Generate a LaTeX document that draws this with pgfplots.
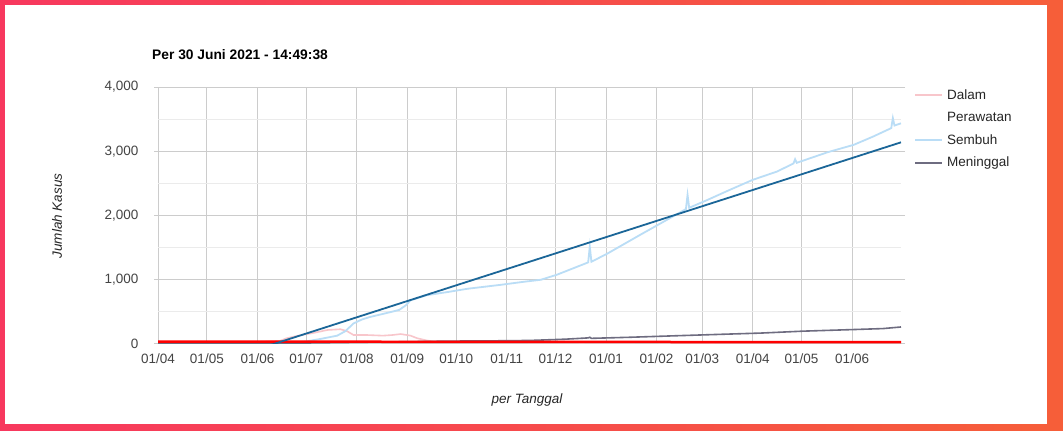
\documentclass[border=0pt]{standalone}
\usepackage{pgfplots}
\pgfplotsset{compat=1.18}
\usepackage{fontspec}
\setmainfont{Liberation Sans}
\definecolor{frameL}{HTML}{F7385E}
\definecolor{frameR}{HTML}{F65E39}
\definecolor{pinkc}{HTML}{F8C6CB}
\definecolor{lblue}{HTML}{BADDF6}
\definecolor{dblue}{HTML}{1B6698}
\definecolor{greyc}{HTML}{6E6C80}
\definecolor{tickc}{HTML}{444444}
\definecolor{majg}{HTML}{CCCCCC}
\definecolor{ming}{HTML}{EBEBEB}
\begin{document}
\begin{tikzpicture}[x=1pt,y=1pt]
\useasboundingbox (0,0) rectangle (1063,431);
\shade[left color=frameL, right color=frameR] (0,0) rectangle (1063,431);
\fill[white] (5,7) rectangle (1047,426);
\node[anchor=west, font=\fontsize{13.8}{16}\selectfont\bfseries, inner sep=0pt] at (152,376) {Per 30 Juni 2021 - 14:49:38};
\node[rotate=90, font=\fontsize{13.5}{15}\selectfont\itshape, text=black!85] at (57,215) {Jumlah Kasus};
\node[font=\fontsize{13.5}{15}\selectfont\itshape, text=black!85] at (527,31) {per Tanggal};
\begin{axis}[
  at={(158pt,87pt)}, anchor=south west, scale only axis,
  width=743pt, height=257pt,
  xmin=0, xmax=456, ymin=0, ymax=4000,
  axis line style={draw=none},
  xtick={0,30,61,91,122,153,183,214,244,275,306,334,365,395,426},
  xticklabels={01/04,01/05,01/06,01/07,01/08,01/09,01/10,01/11,01/12,01/01,01/02,01/03,01/04,01/05,01/06},
  ytick={0,1000,2000,3000,4000},
  yticklabels={0,{1,000},{2,000},{3,000},{4,000}},
  minor ytick={500,1500,2500,3500},
  grid=both,
  major grid style={draw=majg, line width=1pt},
  minor grid style={draw=ming, line width=1pt},
  tick align=outside,
  major tick length=4pt,
  xtick style={draw=none},
  ytick style={draw=majg, line width=1pt},
  minor tick length=0pt,
  extra y ticks={0},
  extra y tick labels={},
  extra y tick style={grid style={draw=black!55, line width=1.2pt}, major tick length=0pt},
  tick label style={font=\fontsize{13.5}{15}\selectfont, text=tickc},
  yticklabel style={xshift=-12pt},
  xticklabel style={yshift=-2pt},
  legend cell align=left,
  legend style={at={(1,1)}, anchor=north west, xshift=10pt, yshift=5pt, draw=none, fill=none,
    font=\fontsize{13.5}{15}\selectfont, text=black!85,
    nodes={text height=11pt, text depth=3.5pt, inner sep=4pt}},
  legend image code/.code={\draw[#1, line width=2pt] (0pt,0pt) -- (27pt,0pt);},
]
% Dalam Perawatan
\addplot[pinkc, line width=1.6pt] coordinates {
(0,25) (20,30) (40,28) (60,30) (75,50) (79,90) (88,140) (95,170) (104,218) (112,230) (116,200) (120,140) (128,140) (138,130) (144,140) (149,155) (155,130) (159,90) (165,55) (169,40) (180,30) (220,25) (260,20) (300,25) (340,20) (380,25) (420,25) (456,30)};
\addlegendentry{Dalam}
\addlegendimage{empty legend}
\addlegendentry{Perawatan}
% Sembuh
\addplot[lblue, line width=1.8pt] coordinates {
(0,0) (60,2) (80,10) (91,40) (100,80) (110,130) (115,200) (120,320) (125,380) (130,420) (140,480) (148,530) (152,600) (155,680) (165,760) (178,810) (190,860) (210,920) (225,970) (235,1000) (245,1080) (255,1180) (264,1270) (265,1515) (266,1280) (276,1410) (296,1700) (316,1985) (324,2100) (325,2320) (326,2120) (337,2240) (351,2400) (365,2555) (380,2685) (390,2810) (391,2875) (392,2820) (411,2985) (427,3100) (439,3230) (450,3360) (451,3515) (452,3400) (456,3435)};
\addlegendentry{Sembuh}
% Meninggal
\addplot[greyc, line width=1.6pt] coordinates {
(0,5) (60,10) (90,15) (120,25) (150,35) (180,45) (210,50) (228,55) (250,75) (264,95) (265,104) (266,88) (290,105) (320,130) (351,155) (370,170) (396,200) (427,225) (445,240) (456,265)};
\addlegendentry{Meninggal}
% trendlines
\addplot[red, line width=2.5pt, forget plot] coordinates {(0,38) (456,28)};
\addplot[dblue, line width=1.8pt, forget plot] coordinates {(0,-579) (456,3139)};
\end{axis}
\end{tikzpicture}
\end{document}
